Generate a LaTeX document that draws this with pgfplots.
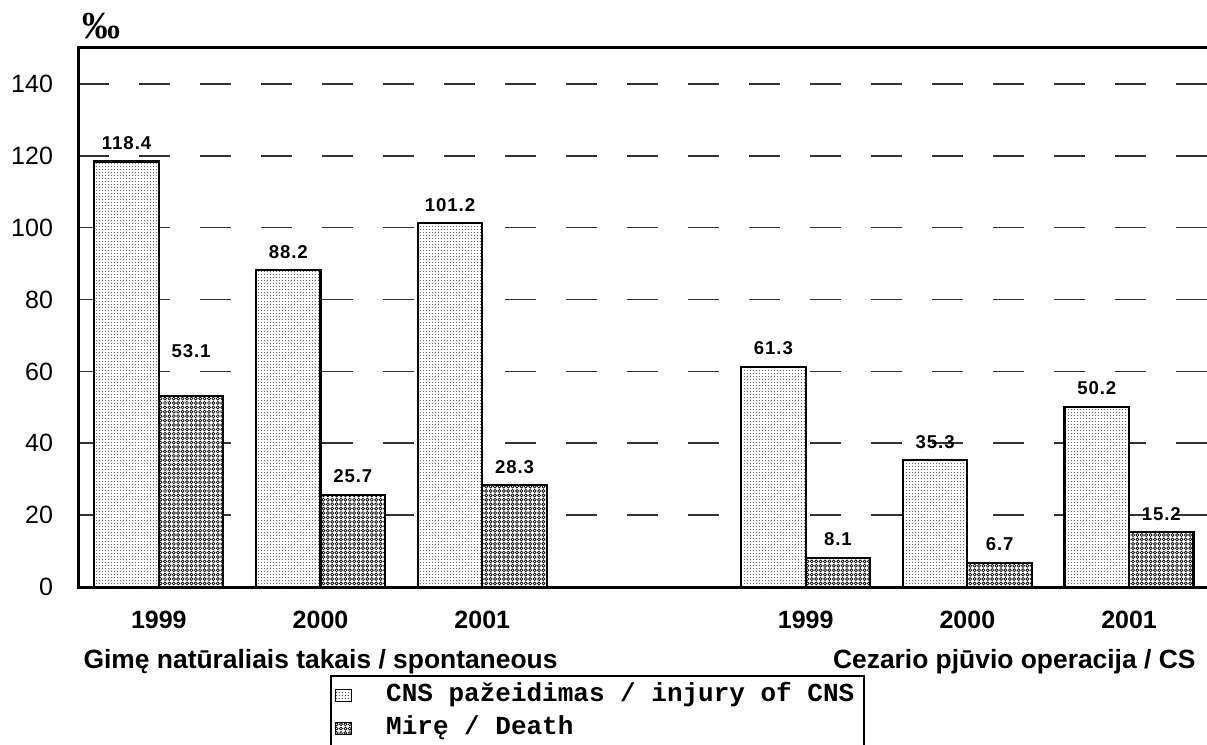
\documentclass[border=0pt]{standalone}
\usepackage{fontspec}
\setmainfont{Liberation Sans}
\newfontfamily\monofont{Liberation Mono}
\newfontfamily\serifbold{Liberation Serif}
\usepackage{pgfplots}
\pgfplotsset{compat=1.18}
\usetikzlibrary{patterns.meta}

\tikzdeclarepattern{
  name=fdots, type=uncolored,
  bottom left={(0pt,0pt)}, top right={(1.6pt,1.6pt)}, tile size={(1.6pt,1.6pt)},
  code={\fill (0.8pt,0.8pt) circle (0.3pt);}
}
\tikzdeclarepattern{
  name=rings, type=uncolored,
  bottom left={(-0.1pt,-0.1pt)}, top right={(2.3pt,2.3pt)}, tile size={(2.2pt,2.2pt)},
  code={\draw[line width=0.35pt] (1.1pt,1.1pt) circle (0.75pt);}
}

\begin{document}
\begin{tikzpicture}
\begin{axis}[
  name=ax,
  scale only axis,
  width=564.5pt, height=269.5pt,
  xmin=-0.5, xmax=6.482,
  ymin=0, ymax=150,
  ytick={0,20,40,60,80,100,120,140},
  xtick={0,1,2,4,5,6},
  xticklabels={1999,2000,2001,1999,2000,2001},
  major tick length=0pt,
  axis line style={draw=none},
  clip=false,
  ymajorgrids=true,
  grid style={black!80, line width=0.8pt, dash pattern=on 15.5pt off 15pt},
  /pgf/number format/assume math mode=true,
  ticklabel style={font=\fontsize{12.5}{15}\selectfont},
  yticklabel style={xshift=-9pt},
  xticklabel style={font=\bfseries\fontsize{12.5}{15}\selectfont, yshift=-8.5pt},
  ybar=0pt,
  bar width=32.25pt,
  point meta=explicit symbolic,
  nodes near coords,
  every node near coord/.append style={font=\bfseries\fontsize{9.3}{11}\selectfont\addfontfeatures{LetterSpace=5}, yshift=2pt},
  legend style={
    at={(0.2232,-0.1633)}, anchor=north west,
    draw=black, line width=1pt,
    font=\monofont\bfseries\fontsize{13}{15}\selectfont,
    inner xsep=2pt, inner ysep=1.5pt,
    nodes={inner ysep=2.25pt, inner xsep=3pt, text height=9pt, text depth=3pt},
    /tikz/every odd column/.append style={column sep=14pt},
  },
  legend cell align=left,
  legend image code/.code={\draw[#1, line width=0.6pt] (0pt,-3pt) rectangle (8pt,3pt);},
]
\addplot[draw=black, line width=1.1pt, fill=white, postaction={pattern=fdots}]
  coordinates {(0,118.4)[118.4] (1,88.2)[88.2] (2,101.2)[101.2] (4,61.3)[61.3] (5,35.3)[35.3] (6,50.2)[50.2]};
\addlegendentry{CNS pažeidimas / injury of CNS}
\addplot[draw=black, line width=1.1pt, fill=white, postaction={pattern=rings}]
  coordinates {(0,53.1)[\raisebox{13.5pt}{53.1}] (1,25.7)[25.7] (2,28.3)[28.3] (4,8.1)[8.1] (5,6.7)[6.7] (6,15.2)[15.2]};
\addlegendentry{Mirę / Death}

\draw[line width=1.5pt] (rel axis cs:1,1) -- (rel axis cs:0,1) -- (rel axis cs:0,0) -- (rel axis cs:1,0);
\node[font=\bfseries\fontsize{13.2}{15}\selectfont, anchor=base] at ([yshift=-40.5pt]axis cs:1,0) {Gimę natūraliais takais / spontaneous};
\node[font=\bfseries\fontsize{13.2}{15}\selectfont, anchor=base] at ([yshift=-40.5pt]axis cs:5.29,0) {Cezario pjūvio operacija / CS};
\node[font=\serifbold\bfseries\fontsize{19}{22}\selectfont] at ([yshift=11pt]rel axis cs:0.0205,1) {‰};
\end{axis}
\pgfresetboundingbox
\path[use as bounding box] ([shift={(-39pt,-78.5pt)}]ax.south west) rectangle ([shift={(0pt,24pt)}]ax.north east);
\end{tikzpicture}
\end{document}
